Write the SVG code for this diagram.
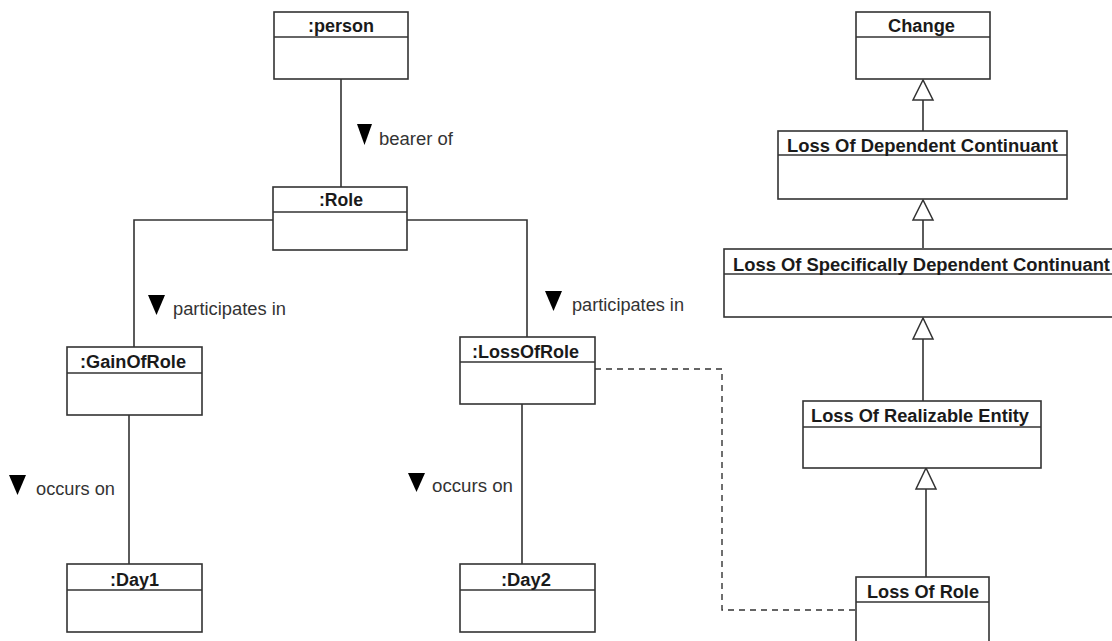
<svg xmlns="http://www.w3.org/2000/svg" width="1112" height="641" viewBox="0 0 1112 641">
<style>
.box{fill:#fff;stroke:#333;stroke-width:1.6}
.div{stroke:#333;stroke-width:1.4}
.t{font-family:"Liberation Sans",Arial,sans-serif;font-weight:bold;font-size:17.5px;fill:#1a1a1a;text-anchor:middle}
.lbl{font-family:"Liberation Sans",Arial,sans-serif;font-size:17.5px;fill:#333}
.ln{fill:none;stroke:#333;stroke-width:1.6}
.dash{fill:none;stroke:#333;stroke-width:1.4;stroke-dasharray:6,5}
.dir{fill:#000}
.gen{fill:#fff;stroke:#333;stroke-width:1.5}
</style>
<rect width="1112" height="641" fill="#fff"/>
<g id="connectors">
<line class="ln" x1="341" y1="79" x2="341" y2="187"/>
<polyline class="ln" points="273,220 134,220 134,347"/>
<polyline class="ln" points="407,220 527,220 527,337"/>
<line class="ln" x1="129" y1="415" x2="129" y2="564"/>
<line class="ln" x1="522" y1="404" x2="522" y2="564"/>
<polyline class="dash" points="595,369 722,369 722,610 856,610"/>
<line class="ln" x1="923" y1="100" x2="923" y2="131"/>
<polygon class="gen" points="923,80 913,100 933,100"/>
<line class="ln" x1="923" y1="220" x2="923" y2="248"/>
<polygon class="gen" points="923,200 913,220 933,220"/>
<line class="ln" x1="923" y1="339" x2="923" y2="401"/>
<polygon class="gen" points="923,318 913,339 933,339"/>
<line class="ln" x1="926" y1="489" x2="926" y2="577"/>
<polygon class="gen" points="926,468 916,489 936,489"/>
<polygon class="dir" points="357,124 372,124 364.5,145"/>
<text class="lbl" x="379" y="145" textLength="74" lengthAdjust="spacingAndGlyphs">bearer of</text>
<polygon class="dir" points="148,295 165,295 156.5,315"/>
<text class="lbl" x="173" y="315" textLength="113" lengthAdjust="spacingAndGlyphs">participates in</text>
<polygon class="dir" points="545,291 562,291 553.5,311"/>
<text class="lbl" x="572" y="311" textLength="112" lengthAdjust="spacingAndGlyphs">participates in</text>
<polygon class="dir" points="9,475 26,475 17.5,495"/>
<text class="lbl" x="36" y="495" textLength="79" lengthAdjust="spacingAndGlyphs">occurs on</text>
<polygon class="dir" points="408,473 425,473 416.5,492"/>
<text class="lbl" x="432" y="492" textLength="81" lengthAdjust="spacingAndGlyphs">occurs on</text>
</g>
<g id="person">
<rect class="box" x="274" y="12" width="134" height="67"/>
<line class="div" x1="274" y1="37" x2="408" y2="37"/>
<text class="t" x="341" y="31.5" textLength="66" lengthAdjust="spacingAndGlyphs">:person</text>
</g>
<g id="role">
<rect class="box" x="273" y="187" width="134" height="63"/>
<line class="div" x1="273" y1="212" x2="407" y2="212"/>
<text class="t" x="341" y="205.5" textLength="44" lengthAdjust="spacingAndGlyphs">:Role</text>
</g>
<g id="gainOfRole">
<rect class="box" x="67" y="347" width="135" height="68"/>
<line class="div" x1="67" y1="373" x2="202" y2="373"/>
<text class="t" x="133" y="367.5" textLength="106" lengthAdjust="spacingAndGlyphs">:GainOfRole</text>
</g>
<g id="day1">
<rect class="box" x="67" y="564" width="135" height="68"/>
<line class="div" x1="67" y1="590" x2="202" y2="590"/>
<text class="t" x="134.5" y="585.5" textLength="49" lengthAdjust="spacingAndGlyphs">:Day1</text>
</g>
<g id="lossOfRoleInst">
<rect class="box" x="460" y="337" width="135" height="67"/>
<line class="div" x1="460" y1="362" x2="595" y2="362"/>
<text class="t" x="525.5" y="357.5" textLength="107" lengthAdjust="spacingAndGlyphs">:LossOfRole</text>
</g>
<g id="day2">
<rect class="box" x="460" y="564" width="135" height="68"/>
<line class="div" x1="460" y1="590" x2="595" y2="590"/>
<text class="t" x="526" y="585.5" textLength="50" lengthAdjust="spacingAndGlyphs">:Day2</text>
</g>
<g id="change">
<rect class="box" x="856" y="12" width="134" height="67"/>
<line class="div" x1="856" y1="37" x2="990" y2="37"/>
<text class="t" x="921.5" y="31.5" textLength="67" lengthAdjust="spacingAndGlyphs">Change</text>
</g>
<g id="lossOfDependentContinuant">
<rect class="box" x="778" y="131" width="289" height="68"/>
<line class="div" x1="778" y1="155" x2="1067" y2="155"/>
<text class="t" x="922.5" y="151.5" textLength="271" lengthAdjust="spacingAndGlyphs">Loss Of Dependent Continuant</text>
</g>
<g id="lossOfSpecificallyDependentContinuant">
<rect class="box" x="724" y="249" width="400" height="68"/>
<line class="div" x1="724" y1="274" x2="1124" y2="274"/>
<text class="t" x="921.5" y="270.5" textLength="377" lengthAdjust="spacingAndGlyphs">Loss Of Specifically Dependent Continuant</text>
</g>
<g id="lossOfRealizableEntity">
<rect class="box" x="803" y="401" width="238" height="67"/>
<line class="div" x1="803" y1="427" x2="1041" y2="427"/>
<text class="t" x="920" y="421.5" textLength="218" lengthAdjust="spacingAndGlyphs">Loss Of Realizable Entity</text>
</g>
<g id="lossOfRole">
<rect class="box" x="856" y="577" width="133" height="80"/>
<line class="div" x1="856" y1="602" x2="989" y2="602"/>
<text class="t" x="923" y="597.5" textLength="112" lengthAdjust="spacingAndGlyphs">Loss Of Role</text>
</g>
</svg>
